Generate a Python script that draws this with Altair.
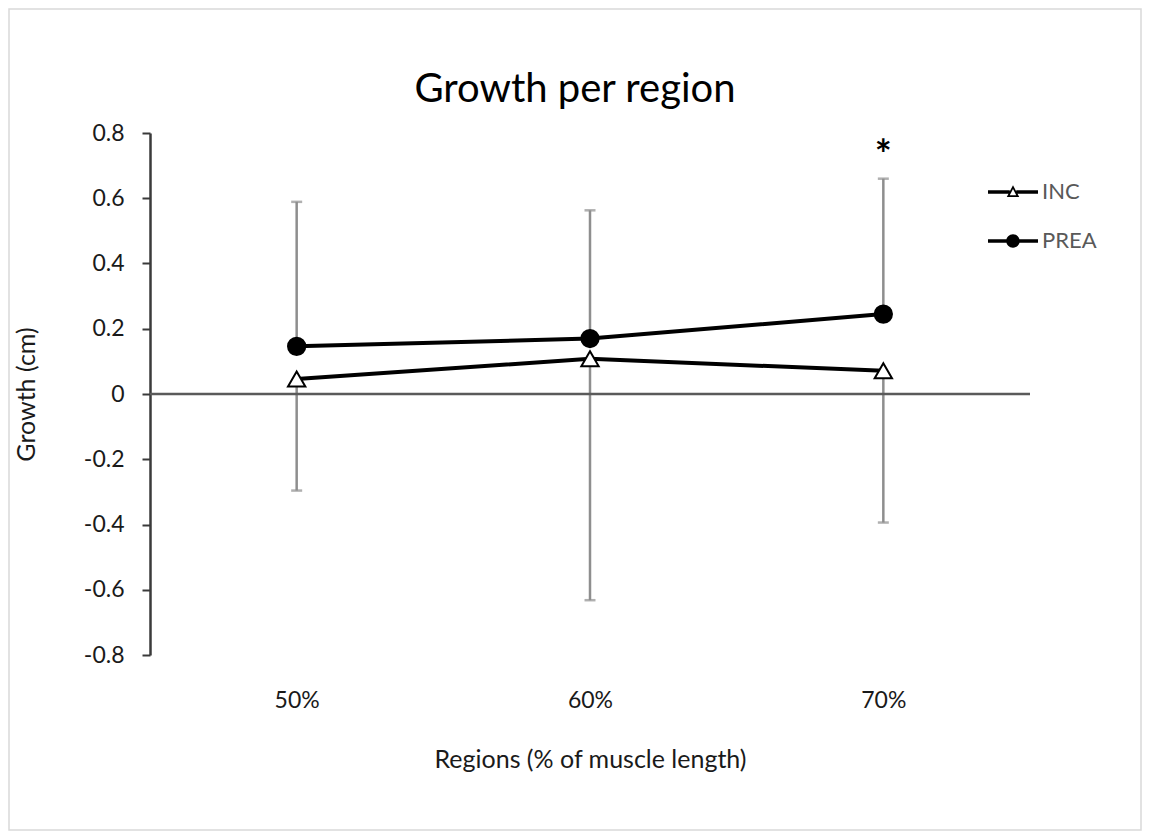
import altair as alt
import pandas as pd

# ---- data ----
categories = ["50%", "60%", "70%"]
series_names = ["INC", "PREA"]
inc_mean = [0.046, 0.108, 0.071]
prea_mean = [0.146, 0.170, 0.245]
prea_err_top = [0.589, 0.563, 0.660]      # upper error bar end (PREA)
inc_err_bottom = [-0.296, -0.632, -0.394]  # lower error bar end (INC)
significance = ["", "", "*"]
y_ticks = [-0.8, -0.6, -0.4, -0.2, 0, 0.2, 0.4, 0.6, 0.8]

FONT = "Lato"

long_df = pd.DataFrame({
    "region": categories * 2,
    "series": ["INC"] * 3 + ["PREA"] * 3,
    "value": inc_mean + prea_mean,
})
err_df = pd.DataFrame({
    "region": categories,
    "inc": inc_mean,
    "prea": prea_mean,
    "top": prea_err_top,
    "bottom": inc_err_bottom,
    "sig": significance,
})

x_enc = alt.X(
    "region:N",
    sort=categories,
    scale=alt.Scale(type="point", padding=0.5),
    axis=alt.Axis(
        title="Regions (% of muscle length)",
        domain=False, ticks=False, labelAngle=0,
        labelFont=FONT, labelFontSize=23, labelColor="#1a1a1a",
        labelPadding=34,
        titleFont=FONT, titleFontSize=25, titleFontWeight="normal",
        titleColor="#1a1a1a", titlePadding=35,
    ),
)
y_scale = alt.Scale(domain=[-0.8, 0.8], nice=False, zero=False)
y_axis = alt.Axis(
    title="Growth (cm)", values=y_ticks, grid=False,
    labelExpr="'' + round(datum.value * 10) / 10",
    labelFont=FONT, labelFontSize=23, labelColor="#1a1a1a", labelPadding=18,
    domainColor="#3a3a3a", domainWidth=2.5,
    tickColor="#3a3a3a", tickWidth=2, tickSize=8,
    titleFont=FONT, titleFontSize=25, titleFontWeight="normal",
    titleColor="#1a1a1a", titlePadding=44,
)

base_err = alt.Chart(err_df)
err_color = "#8e8e8e"

err_up = base_err.mark_rule(color=err_color, strokeWidth=2.5).encode(
    x=x_enc, y=alt.Y("prea:Q", scale=y_scale, axis=y_axis), y2="top:Q")
err_down = base_err.mark_rule(color=err_color, strokeWidth=2.5).encode(
    x=x_enc, y=alt.Y("inc:Q", scale=y_scale), y2="bottom:Q")
cap_top = base_err.mark_tick(color=err_color, thickness=2.5, size=11).encode(
    x=x_enc, y=alt.Y("top:Q", scale=y_scale))
cap_bottom = base_err.mark_tick(color=err_color, thickness=2.5, size=11).encode(
    x=x_enc, y=alt.Y("bottom:Q", scale=y_scale))

zero_line = alt.Chart(pd.DataFrame({"z": [0]})).mark_rule(
    color="#5a5a5a", strokeWidth=2.5).encode(y=alt.Y("z:Q", scale=y_scale))

lines = alt.Chart(long_df).mark_line(color="black", strokeWidth=4).encode(
    x=x_enc, y=alt.Y("value:Q", scale=y_scale), detail="series:N")

points = alt.Chart(long_df).mark_point(
    filled=False, stroke="black", strokeWidth=2, opacity=1, size=300).encode(
    x=x_enc,
    y=alt.Y("value:Q", scale=y_scale),
    shape=alt.Shape("series:N", scale=alt.Scale(domain=series_names,
                    range=["triangle-up", "circle"]), legend=None),
    fill=alt.Fill("series:N", scale=alt.Scale(domain=series_names,
                  range=["white", "black"]), legend=None),
)

sig_text = base_err.mark_text(
    font=FONT, fontSize=40, fontWeight="bold", color="black",
    baseline="bottom", dy=-2).encode(
    x=x_enc, y=alt.Y("top:Q", scale=y_scale), text="sig:N")

# legend-only layers (no rows drawn): one legend per series,
# symbol = line with marker, drawn as filled outlines
legend_paths = {
    "INC": ("M-1,-0.07H-0.13V0.07H-1Z"
            "M0.13,-0.07H1V0.07H0.13Z"
            "M0,-0.27L0.25,0.2L-0.25,0.2Z"
            "M0,-0.12L-0.13,0.13L0.13,0.13Z"),
    "PREA": ("M-1,-0.07H1V0.07H-1Z"
             "M0.27,0A0.27,0.27 0 1,1 -0.27,0A0.27,0.27 0 1,1 0.27,0Z"),
}
legend_y = {"INC": 34, "PREA": 83}


def legend_layer(name):
    leg = alt.Legend(
        orient="none", legendX=838, legendY=legend_y[name], title=None,
        labelFont=FONT, labelFontSize=22, labelColor="#595959", labelOffset=4,
        symbolSize=2500, symbolStrokeWidth=0,
        symbolFillColor="black", symbolOpacity=1, padding=0,
    )
    return alt.Chart(long_df).transform_filter(
        alt.datum.series == "__none__").mark_point(
        filled=True, color="black", opacity=1, size=2500).encode(
        x=x_enc,
        y=alt.Y("value:Q", scale=y_scale),
        shape=alt.Shape("series:N", scale=alt.Scale(
            domain=[name], range=[legend_paths[name]]), legend=leg),
    )


frame = alt.Chart(pd.DataFrame({"f": [0]})).mark_rect(
    fill=None, stroke="#d9d9d9", strokeWidth=1.5, clip=False).encode(
    x=alt.value(-141), x2=alt.value(991), y=alt.value(-124), y2=alt.value(697))

chart = alt.layer(
    frame, err_up, err_down, cap_top, cap_bottom, zero_line,
    lines, points, sig_text, legend_layer("INC"), legend_layer("PREA"),
).resolve_scale(shape="independent").properties(
    width=880, height=522,
    title=alt.TitleParams("Growth per region", font=FONT, fontSize=40,
                          fontWeight="normal", color="black",
                          anchor="middle", offset=-102, dx=-15),
    autosize=alt.AutoSizeParams(type="none"),
    padding={"left": 142, "top": 125, "right": 112, "bottom": 176},
    background="white",
).configure_view(stroke=None)

chart.save("out.html", embed_options={"renderer": "svg", "actions": False})
